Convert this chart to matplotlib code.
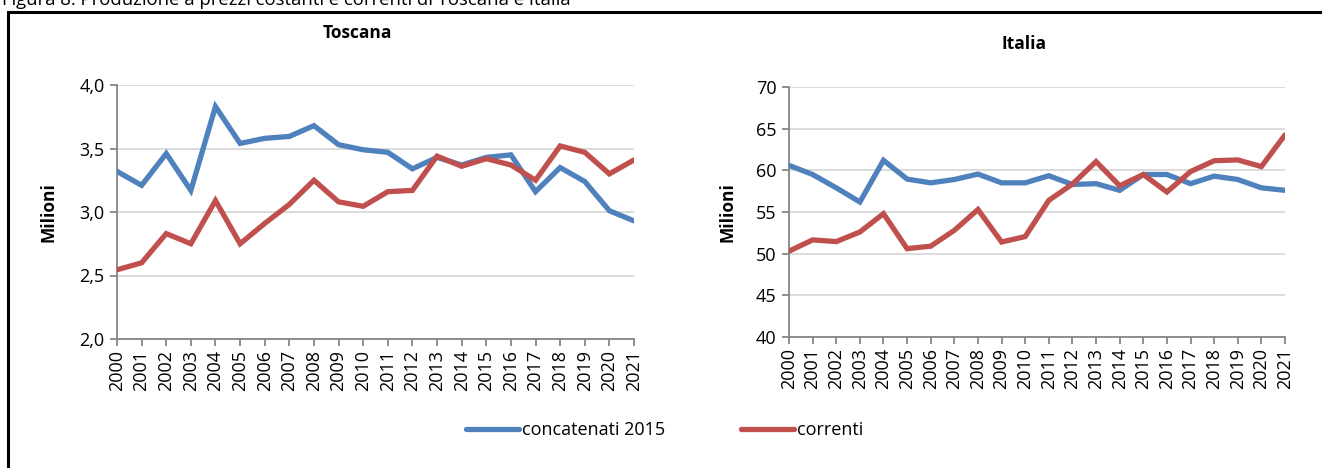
#!/usr/bin/env python
# -*- coding: utf-8 -*-
"""
Produzione a prezzi costanti e correnti di Toscana e Italia
"""
import numpy as np
import matplotlib
matplotlib.use("Agg")
import matplotlib.pyplot as plt
from matplotlib.patches import Rectangle

# ======================= data
years = list(range(2000, 2022))

toscana_conc = [3.32, 3.21, 3.46, 3.17, 3.83, 3.54, 3.58, 3.595, 3.68, 3.53, 3.49,
                3.47, 3.34, 3.43, 3.37, 3.43, 3.45, 3.16, 3.35, 3.24, 3.01, 2.93]
toscana_corr = [2.545, 2.60, 2.83, 2.75, 3.09, 2.75, 2.91, 3.06, 3.25, 3.08, 3.045,
                3.16, 3.17, 3.44, 3.36, 3.42, 3.37, 3.25, 3.52, 3.47, 3.30, 3.41]

italia_conc = [60.6, 59.5, 57.9, 56.2, 61.2, 58.95, 58.5, 58.9, 59.55, 58.5, 58.5,
               59.35, 58.3, 58.4, 57.6, 59.5, 59.5, 58.4, 59.3, 58.9, 57.9, 57.6]
italia_corr = [50.3, 51.65, 51.45, 52.6, 54.8, 50.6, 50.9, 52.8, 55.3, 51.4, 52.05,
               56.4, 58.35, 61.05, 58.15, 59.5, 57.4, 59.85, 61.15, 61.25, 60.45, 64.25]

series_labels = ["concatenati 2015", "correnti"]
fig_title = "Figura 8. Produzione a prezzi costanti e correnti di Toscana e Italia"

# ======================= style
plt.rcParams['font.family'] = ['Open Sans', 'DejaVu Sans']
BLUE = '#4F81BD'
RED = '#C0504D'
GRID = '#D9D9D9'
AXIS = '#868686'
W, H = 1322, 468

fig = plt.figure(figsize=(W / 100, H / 100), dpi=100)

def px_axes(x0, y0, x1, y1):
    # axes from pixel box (top-left origin)
    return fig.add_axes([x0 / W, 1 - y1 / H, (x1 - x0) / W, (y1 - y0) / H])

def draw_panel(ax, conc, corr, ylim, yticks, fmt):
    l1, = ax.plot(years, conc, color=BLUE, lw=3.8, solid_capstyle='round',
                  solid_joinstyle='miter', zorder=3)
    l2, = ax.plot(years, corr, color=RED, lw=3.8, solid_capstyle='round',
                  solid_joinstyle='miter', zorder=3)
    ax.set_xlim(years[0], years[-1])
    ax.set_ylim(*ylim)
    ax.set_yticks(yticks)
    ax.set_yticklabels([fmt(v) for v in yticks])
    ax.set_xticks(years)
    ax.set_xticklabels([str(y) for y in years], rotation=90)
    ax.grid(axis='y', color=GRID, lw=1.3)
    ax.set_axisbelow(True)
    for s in ['top', 'right']:
        ax.spines[s].set_visible(False)
    for s in ['left', 'bottom']:
        ax.spines[s].set_color(AXIS)
        ax.spines[s].set_linewidth(1.3)
    ax.tick_params(axis='both', colors=AXIS, labelcolor='black', labelsize=13,
                   length=5, width=1.3)
    ax.tick_params(axis='y', pad=4)
    ax.tick_params(axis='x', pad=3)
    return l1, l2

# ======================= left: Toscana
ax1 = px_axes(117, 85, 634, 339)
lines = draw_panel(ax1, toscana_conc, toscana_corr, (2.0, 4.0),
                   [2.0, 2.5, 3.0, 3.5, 4.0], lambda v: ("%.1f" % v).replace('.', ','))
ax1.set_ylabel("Milioni", fontsize=12.5, fontweight='bold', labelpad=16)
fig.text(357 / W, 1 - 33 / H, "Toscana", ha='center', va='center',
         fontsize=12.5, fontweight='bold')

# ======================= right: Italia
ax2 = px_axes(789, 87, 1285, 337)
draw_panel(ax2, italia_conc, italia_corr, (40, 70),
           [40, 45, 50, 55, 60, 65, 70], lambda v: "%d" % v)
ax2.set_ylabel("Milioni", fontsize=12.5, fontweight='bold', labelpad=14)
fig.text(1024 / W, 1 - 44 / H, "Italia", ha='center', va='center',
         fontsize=12.5, fontweight='bold')

# ======================= legend
fig.legend(lines, series_labels, loc='center', bbox_to_anchor=(665 / W, 1 - 430 / H),
           ncol=2, frameon=False, fontsize=13, handlelength=2.9, handletextpad=0.2,
           columnspacing=4.2)

# ======================= frame and cut-off title
fig.patches.append(Rectangle((8 / W, -0.1), 1.2, 1 - 12 / H + 0.1,
                             transform=fig.transFigure, fill=False,
                             edgecolor='black', lw=2.2))
fig.text(2 / W, 1 - 5 / H, fig_title, ha='left', va='baseline', fontsize=13.3)

fig.savefig("out.png", dpi=100)
